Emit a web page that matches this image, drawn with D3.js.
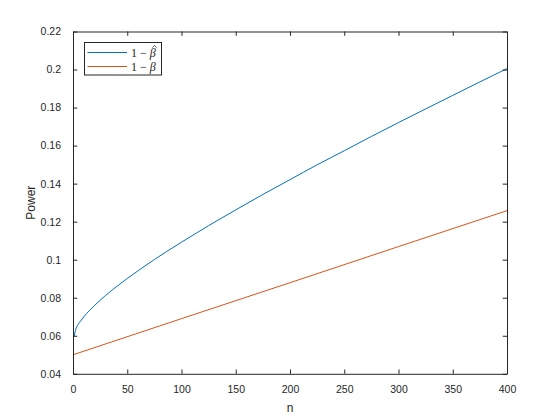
<!DOCTYPE html>
<html><head><meta charset="utf-8">
<script src="https://cdn.jsdelivr.net/npm/d3@7"></script>
<style>body{margin:0;background:#fff}svg{display:block}</style>
</head><body>
<svg id="c" width="560" height="420"></svg>
<script>
// Data
const blueN = [1,2,3,5,7,10,15,20,30,40,50,60,75,100,125,150,175,200,225,250,275,300,325,350,375,400];
const blueP = [0.0595,0.0622,0.0641,0.0662,0.0678,0.0700,0.0732,0.0760,0.0812,0.0858,0.0901,0.0942,0.1001,0.1092,0.1179,0.1262,0.1343,0.1421,0.1499,0.1573,0.1648,0.1721,0.1793,0.1864,0.1935,0.2005];
const redN = [0,100,200,300,400];
const redP = [0.0500,0.0690,0.0879,0.1069,0.1258];
const xTicks = [0,50,100,150,200,250,300,350,400];
const yTicks = [0.04,0.06,0.08,0.1,0.12,0.14,0.16,0.18,0.2,0.22];
const yTickLabels = ["0.04","0.06","0.08","0.1","0.12","0.14","0.16","0.18","0.2","0.22"];

const svg = d3.select("#c");
const L = 73, R = 507, T = 31.5, B = 373.8;
const x = d3.scaleLinear().domain([0,400]).range([L,R]);
const y = d3.scaleLinear().domain([0.04,0.22]).range([B,T]);
const axCol = "#262626";
const font = "'Liberation Sans', Arial, Helvetica, sans-serif";

const g = svg.append("g");
g.append("rect").attr("x",L).attr("y",T).attr("width",R-L).attr("height",B-T).attr("fill","#fff");

const line = d3.line().x(d=>x(d[0])).y(d=>y(d[1])).curve(d3.curveMonotoneX);
svg.append("clipPath").attr("id","pa").append("rect").attr("x",L).attr("y",T).attr("width",R-L).attr("height",B-T);
g.append("path").datum(redN.map((n,i)=>[n,redP[i]])).attr("d",line).attr("fill","none").attr("stroke","#D95319").attr("stroke-width",1).attr("clip-path","url(#pa)");
g.append("path").datum(blueN.map((n,i)=>[n,blueP[i]])).attr("d",line).attr("fill","none").attr("stroke","#0072BD").attr("stroke-width",1).attr("clip-path","url(#pa)");

const tl = 4.3;
const xb = d3.axisBottom(x).tickValues(xTicks).tickSizeInner(-tl).tickSizeOuter(0).tickPadding(12).tickFormat(d3.format("d"));
const xt = d3.axisTop(x).tickValues(xTicks).tickSizeInner(-tl).tickSizeOuter(0).tickFormat("");
const yl = d3.axisLeft(y).tickValues(yTicks).tickSizeInner(-tl).tickSizeOuter(0).tickPadding(12).tickFormat((d,i)=>yTickLabels[i]);
const yr = d3.axisRight(y).tickValues(yTicks).tickSizeInner(-tl).tickSizeOuter(0).tickFormat("");
function style(sel){
  sel.select(".domain").attr("stroke",axCol).attr("stroke-width",1);
  sel.selectAll(".tick line").attr("stroke",axCol).attr("stroke-width",1);
  sel.selectAll(".tick text").attr("fill",axCol).style("font-family",font).style("font-size","10.5px");
}
g.append("g").attr("transform",`translate(0,${B})`).call(xb).call(style);
g.append("g").attr("transform",`translate(0,${T})`).call(xt).call(style);
g.append("g").attr("transform",`translate(${L},0)`).call(yl).call(style);
g.append("g").attr("transform",`translate(${R},0)`).call(yr).call(style);

// axis labels
svg.append("text").attr("x",(L+R)/2).attr("y",411.5).attr("text-anchor","middle").attr("fill",axCol).style("font-family",font).style("font-size","12px").text("n");
svg.append("text").attr("transform",`translate(35,${(T+B)/2}) rotate(-90)`).attr("text-anchor","middle").attr("fill",axCol).style("font-family",font).style("font-size","12px").text("Power");

// legend
const lg = svg.append("g");
lg.append("rect").attr("x",84.5).attr("y",42.5).attr("width",77).attr("height",32.5).attr("fill","#fff").attr("stroke","#262626").attr("stroke-width",1);
const items = [{c:"#0072BD",hat:true,yy:52.5},{c:"#D95319",hat:false,yy:66.5}];
items.forEach(it=>{
  lg.append("line").attr("x1",87.5).attr("x2",127).attr("y1",it.yy).attr("y2",it.yy).attr("stroke",it.c).attr("stroke-width",1);
  const t = lg.append("text").attr("x",131).attr("y",it.yy+4).attr("fill","#262626").style("font-family","'Liberation Serif',serif").style("font-size","12px");
  t.append("tspan").text("1 − ");
  t.append("tspan").style("font-style","italic").text("β");
  if(it.hat){
    const hx = 154.5, hy = it.yy - 6.5;
    lg.append("path").attr("d",`M${hx-2.2},${hy+1.6}L${hx},${hy-0.6}L${hx+2.2},${hy+1.6}`).attr("fill","none").attr("stroke","#262626").attr("stroke-width",0.8);
  }
});
</script>
</body></html>
